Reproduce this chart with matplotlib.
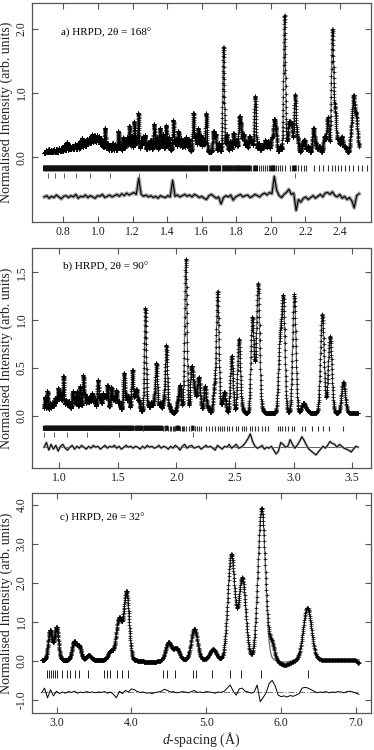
import numpy as np
import matplotlib
matplotlib.use("agg")
import matplotlib.pyplot as plt

plt.rcParams["font.family"] = ["Liberation Serif", "DejaVu Serif"]
plt.rcParams["mathtext.fontset"] = "custom"
plt.rcParams["mathtext.rm"] = "Liberation Serif"
plt.rcParams["mathtext.it"] = "Liberation Serif:italic"
plt.rcParams["axes.unicode_minus"] = False

# ---------------- panel a : HRPD 168 deg bank ----------------
a_range = (0.69, 2.51)
a_base = 0.07
a_broad = [(0.98, 0.15, 0.04), (1.30, 0.05, 0.20), (0.86, 0.05, 0.06)]
a_peak_d = [0.700, 0.715, 0.730, 0.745, 0.760, 0.775, 0.790, 0.805, 0.820, 0.835,
            0.850, 0.868, 0.885, 0.900, 0.907, 0.920, 0.935, 0.950, 0.965, 0.980,
            0.995, 1.005, 1.020, 1.041, 1.055, 1.070, 1.085, 1.100, 1.118, 1.130,
            1.147, 1.160, 1.170, 1.182, 1.195, 1.210, 1.222, 1.234, 1.250, 1.262,
            1.272, 1.290, 1.305, 1.325, 1.340, 1.359, 1.375, 1.394, 1.410, 1.436,
            1.450, 1.465, 1.480, 1.495, 1.510, 1.525, 1.552, 1.565, 1.580, 1.595,
            1.610, 1.626, 1.668, 1.680, 1.700, 1.726, 1.745, 1.765, 1.784, 1.800,
            1.818, 1.828, 1.842, 1.858, 1.876, 1.890, 1.909, 1.930, 1.950, 1.967,
            1.985, 2.005, 2.019, 2.030, 2.055, 2.079, 2.100, 2.108, 2.120, 2.140,
            2.155, 2.183, 2.194, 2.215, 2.246, 2.260, 2.280, 2.310, 2.329, 2.356,
            2.372, 2.390, 2.410, 2.430, 2.465, 2.478, 2.493, 2.505]
a_peak_h = [0.04, 0.05, 0.04, 0.05, 0.04, 0.06, 0.05, 0.08, 0.12, 0.07,
            0.05, 0.08, 0.09, 0.12, 0.16, 0.08, 0.10, 0.09, 0.12, 0.10,
            0.12, 0.12, 0.10, 0.32, 0.10, 0.08, 0.12, 0.10, 0.30, 0.12,
            0.20, 0.15, 0.20, 0.38, 0.22, 0.44, 0.18, 0.57, 0.15, 0.20,
            0.22, 0.12, 0.15, 0.40, 0.20, 0.34, 0.25, 0.38, 0.20, 0.47,
            0.18, 0.30, 0.20, 0.15, 0.22, 0.18, 0.60, 0.25, 0.36, 0.25,
            0.20, 0.60, 0.32, 0.28, 0.15, 1.64, 0.28, 0.18, 0.30, 0.20,
            0.52, 0.35, 0.28, 0.18, 0.25, 0.18, 0.88, 0.15, 0.12, 0.20,
            0.18, 0.22, 0.48, 0.30, 0.10, 2.14, 0.20, 0.38, 0.42, 0.90,
            0.20, 0.12, 0.18, 0.10, 0.38, 0.12, 0.10, 0.25, 0.55, 1.90,
            0.60, 0.20, 0.25, 0.10, 0.30, 0.82, 0.52, 0.10]
a_fwhm = 0.0062
a_diff = [-0.62, -0.60, -0.64, -0.61, -0.63, -0.59, -0.62, -0.65, -0.61, -0.60,
          -0.63, -0.60, -0.62, -0.58, -0.64, -0.61, -0.62, -0.59, -0.63, -0.60,
          -0.62, -0.64, -0.60, -0.61, -0.58, -0.63, -0.61, -0.59, -0.62, -0.60,
          -0.58, -0.61, -0.57, -0.60, -0.56, -0.59, -0.57, -0.55, -0.58, -0.33,
          -0.58, -0.61, -0.59, -0.62, -0.60, -0.63, -0.61, -0.64, -0.60, -0.62,
          -0.63, -0.60, -0.62, -0.36, -0.61, -0.59, -0.62, -0.60, -0.58, -0.61,
          -0.59, -0.62, -0.58, -0.60, -0.63, -0.61, -0.64, -0.66, -0.60, -0.58,
          -0.61, -0.64, -0.62, -0.73, -0.63, -0.60, -0.62, -0.59, -0.67, -0.62,
          -0.60, -0.58, -0.62, -0.60, -0.59, -0.63, -0.61, -0.58, -0.60, -0.62,
          -0.58, -0.56, -0.59, -0.55, -0.57, -0.30, -0.52, -0.60, -0.63, -0.58,
          -0.55, -0.50, -0.58, -0.56, -0.83, -0.66, -0.70, -0.64, -0.62, -0.66,
          -0.63, -0.60, -0.64, -0.61, -0.58, -0.62, -0.56, -0.55, -0.58, -0.54,
          -0.60, -0.62, -0.58, -0.64, -0.61, -0.66, -0.63, -0.68, -0.79, -0.60, -0.57]

# ---------------- panel b : HRPD 90 deg bank ----------------
b_range = (0.87, 3.55)
b_base = 0.03
b_broad = [(1.00, 0.10, 0.035), (1.25, 0.06, 0.30)]
b_peak_d = [0.878, 0.898, 0.920, 0.940, 0.965, 0.992, 1.008, 1.035, 1.060, 1.080,
            1.115, 1.130, 1.150, 1.177, 1.205, 1.220, 1.240, 1.260, 1.280, 1.300,
            1.330, 1.350, 1.373, 1.390, 1.410, 1.444, 1.465, 1.487, 1.510, 1.552,
            1.570, 1.590, 1.624, 1.645, 1.660, 1.680, 1.734, 1.760, 1.785, 1.810,
            1.829, 1.860, 1.890, 1.913, 1.940, 2.010, 2.030, 2.060, 2.080, 2.127,
            2.143, 2.160, 2.186, 2.200, 2.243, 2.270, 2.323, 2.351, 2.380, 2.408,
            2.471, 2.533, 2.560, 2.647, 2.675, 2.698, 2.730, 2.883, 2.912, 3.005,
            3.082, 3.110, 3.244, 3.310, 3.424]
b_peak_h = [0.14, 0.20, 0.06, 0.05, 0.06, 0.12, 0.08, 0.28, 0.06, 0.07,
            0.17, 0.10, 0.17, 0.22, 0.33, 0.12, 0.10, 0.12, 0.15, 0.10,
            0.29, 0.12, 0.15, 0.12, 0.24, 0.22, 0.12, 0.19, 0.08, 0.38,
            0.12, 0.14, 0.42, 0.12, 0.20, 0.10, 1.08, 0.06, 0.10, 0.12,
            0.50, 0.10, 0.12, 0.70, 0.06, 0.10, 0.28, 0.08, 1.60, 0.42,
            0.22, 0.15, 0.30, 0.15, 0.28, 0.05, 0.25, 1.26, 0.06, 0.22,
            0.60, 0.77, 0.04, 0.98, 0.30, 1.30, 0.03, 0.70, 1.16, 1.24,
            0.10, 0.03, 1.03, 0.80, 0.32]
b_fwhm = 0.0108
b_diff = [-0.33, -0.28, -0.36, -0.30, -0.35, -0.31, -0.37, -0.32, -0.30, -0.34,
          -0.36, -0.33, -0.31, -0.35, -0.32, -0.34, -0.31, -0.33, -0.35, -0.32,
          -0.34, -0.31, -0.33, -0.32, -0.35, -0.33, -0.31, -0.34, -0.32, -0.33,
          -0.31, -0.34, -0.32, -0.35, -0.33, -0.31, -0.33, -0.32, -0.34, -0.32,
          -0.33, -0.35, -0.32, -0.34, -0.31, -0.33, -0.32, -0.34, -0.33, -0.31,
          -0.34, -0.32, -0.33, -0.35, -0.32, -0.34, -0.31, -0.33, -0.36, -0.32,
          -0.30, -0.34, -0.32, -0.31, -0.34, -0.33, -0.32, -0.35, -0.33, -0.31,
          -0.33, -0.32, -0.34, -0.36, -0.31, -0.33, -0.35, -0.32, -0.33, -0.30,
          -0.34, -0.32, -0.30, -0.34, -0.33, -0.31, -0.28, -0.24, -0.19, -0.27,
          -0.32, -0.34, -0.33, -0.31, -0.35, -0.33, -0.34, -0.32, -0.36, -0.40,
          -0.37, -0.28, -0.30, -0.33, -0.32, -0.25, -0.30, -0.34, -0.31, -0.27,
          -0.22, -0.26, -0.31, -0.35, -0.37, -0.39, -0.41, -0.38, -0.35, -0.32,
          -0.34, -0.31, -0.27, -0.29, -0.30, -0.33, -0.30, -0.32, -0.34, -0.35,
          -0.36, -0.38, -0.35, -0.32, -0.33]

# ---------------- panel c : HRPD 32 deg bank ----------------
c_range = (2.80, 7.04)
c_base = 0.03
c_broad = [(4.25, -0.06, 0.12), (6.05, -0.06, 0.08)]
c_obs_extra = [(5.875, 0.42, 0.035), (6.05, -0.07, 0.08), (7.03, -0.08, 0.02)]
c_peak_d = [2.913, 2.955, 3.000, 3.234, 3.300, 3.430, 3.720, 3.800, 3.840, 3.880,
            3.935, 4.495, 4.600, 4.840, 5.090, 5.334, 5.480, 5.740, 6.350]
c_peak_h = [0.74, 0.10, 0.82, 0.45, 0.35, 0.12, 0.22, 0.30, 0.85, 0.15,
            1.72, 0.45, 0.30, 0.80, 0.27, 2.70, 2.10, 3.90, 1.34]
c_fwhm = 0.020
c_diff = [-0.82, -0.70, -0.95, -0.74, -0.90, -0.78, -0.84, -0.80, -0.83, -0.79,
          -0.81, -0.78, -0.83, -0.80, -0.82, -0.79, -0.81, -0.80, -0.82, -0.80,
          -0.81, -0.79, -0.83, -0.80, -0.86, -0.95, -0.78, -0.84, -0.76, -0.80,
          -0.72, -0.74, -0.79, -0.81, -0.80, -0.83, -0.82, -0.84, -0.81, -0.80,
          -0.78, -0.73, -0.76, -0.80, -0.79, -0.82, -0.81, -0.79, -0.80, -0.82,
          -0.79, -0.76, -0.81, -0.80, -0.82, -0.79, -0.80, -0.81, -0.83, -0.80,
          -0.81, -0.78, -0.70, -0.62, -0.78, -0.88, -0.72, -0.70, -0.78, -0.80,
          -0.83, -0.80, -0.62, -1.05, -0.94, -0.82, -0.58, -0.50, -0.64, -0.88,
          -0.92, -0.90, -0.93, -0.89, -0.91, -0.88, -0.84, -0.70, -0.68, -0.70,
          -0.74, -0.78, -0.82, -0.80, -0.81, -0.79, -0.82, -0.80, -0.81, -0.79,
          -0.80, -0.82, -0.79, -0.78, -0.80, -0.83, -0.86]

# ---------------- reflection markers ----------------
hkl_main_ab = [
    0.690, 0.697, 0.705, 0.712, 0.720, 0.727, 0.735, 0.742, 0.750, 0.757,
    0.765, 0.772, 0.780, 0.788, 0.795, 0.803, 0.810, 0.818, 0.826, 0.833,
    0.841, 0.848, 0.856, 0.864, 0.871, 0.879, 0.886, 0.894, 0.902, 0.909,
    0.917, 0.924, 0.932, 0.940, 0.947, 0.955, 0.962, 0.970, 0.978, 0.985,
    0.993, 1.000, 1.008, 1.016, 1.023, 1.031, 1.038, 1.046, 1.054, 1.061,
    1.069, 1.076, 1.084, 1.092, 1.099, 1.107, 1.114, 1.122, 1.130, 1.137,
    1.145, 1.152, 1.160, 1.168, 1.175, 1.183, 1.190, 1.198, 1.206, 1.213,
    1.221, 1.228, 1.236, 1.244, 1.251, 1.259, 1.266, 1.274, 1.282, 1.289,
    1.297, 1.304, 1.312, 1.320, 1.327, 1.335, 1.342, 1.350, 1.358, 1.365,
    1.373, 1.380, 1.388, 1.396, 1.404, 1.412, 1.419, 1.428, 1.436, 1.443,
    1.452, 1.460, 1.467, 1.476, 1.484, 1.493, 1.500, 1.509, 1.517, 1.526,
    1.534, 1.541, 1.550, 1.558, 1.566, 1.575, 1.583, 1.590, 1.599, 1.607,
    1.615, 1.624, 1.630, 1.652, 1.661, 1.669, 1.678, 1.688, 1.697, 1.705,
    1.716, 1.726, 1.734, 1.745, 1.753, 1.764, 1.772, 1.784, 1.793, 1.803,
    1.812, 1.818, 1.829, 1.838, 1.849, 1.858, 1.868, 1.877, 1.888, 1.898,
    1.909, 1.918, 1.929, 1.944, 1.956, 1.967, 1.979, 1.990, 2.003, 2.012,
    2.019, 2.030, 2.043, 2.055, 2.066, 2.079, 2.110, 2.122, 2.135, 2.142,
    2.155, 2.175, 2.190, 2.206, 2.252, 2.279, 2.300, 2.328, 2.351, 2.371,
    2.386, 2.408, 2.428, 2.451, 2.476, 2.505, 2.527, 2.556, 2.578, 2.590,
    2.627, 2.647, 2.670, 2.693, 2.727, 2.755, 2.778, 2.863, 2.883, 2.903,
    2.926, 2.954, 2.983, 3.002, 3.073, 3.096, 3.153, 3.205, 3.252, 3.304,
    3.418]
hkl_second = [0.713, 0.752, 0.805, 0.873, 0.955, 1.068, 1.235, 1.512, 2.138]
hkl_main_c = [2.877, 2.904, 2.931, 2.957, 2.984, 3.011, 3.074, 3.136, 3.184, 3.251,
              3.305, 3.425, 3.634, 3.678, 3.714, 3.812, 3.875, 3.959, 4.426, 4.479,
              4.582, 4.827, 4.858, 5.080, 5.320, 5.463, 5.730, 6.354]


def profile(d, centers, heights, fwhm_frac, base, broad):
    centers = np.asarray(centers)[:, None]
    heights = np.asarray(heights)[:, None]
    sig = fwhm_frac * centers / 2.355
    y = base + (heights * np.exp(-0.5 * ((d[None, :] - centers) / sig) ** 2)).sum(axis=0)
    for c, h, s in broad:
        y = y + h * np.exp(-0.5 * ((d - c) / s) ** 2)
    return y


def draw_hkl(ax, positions, lo, hi):
    # closely packed reflections merge into a solid bar, isolated ones stay thin
    pos = np.asarray(positions)
    gap = np.minimum(np.diff(pos, prepend=-1.0), np.diff(pos, append=99.0))
    dense = gap < 0.0095
    ax.vlines(pos[dense], lo, hi, color="#111111", lw=1.9, snap=False)
    ax.vlines(pos[~dense], lo, hi, color="#333333", lw=0.8)


def style_axes(ax, xlim, ylim, xticks, yticks):
    ax.set_xlim(*xlim)
    ax.set_ylim(*ylim)
    ax.set_xticks(xticks)
    ax.set_xticklabels(["%.1f" % v for v in xticks])
    ax.set_yticks(yticks)
    ax.set_yticklabels(["%.1f" % v for v in yticks], rotation=90, va="center")
    ax.tick_params(direction="in", length=4.5, width=0.8, color="#555555",
                   top=True, right=True, labelsize=8.5, labelcolor="#222222", pad=3)
    for s in ax.spines.values():
        s.set_color("#555555")
        s.set_linewidth(0.9)
    ax.set_ylabel("Normalised Intensity (arb. units)", fontsize=10, color="#222222", labelpad=2)


fig = plt.figure(figsize=(3.74, 7.5), dpi=100)
ax_a = fig.add_axes([0.0856, 0.704, 0.9064, 0.292])
ax_b = fig.add_axes([0.0856, 0.376, 0.9064, 0.2933])
ax_c = fig.add_axes([0.0856, 0.0493, 0.9064, 0.2933])

obs_kw = dict(ls="none", marker="+", color="black", mew=0.5)
calc_kw = dict(color="#6a6a6a", lw=0.9, zorder=1)

# panel a
d_a = np.geomspace(a_range[0], a_range[1], 5000)
calc_a = profile(d_a, a_peak_d, a_peak_h, a_fwhm, a_base, a_broad)
ax_a.plot(d_a, calc_a, **calc_kw)
ax_a.plot(d_a, calc_a, ms=2.2, **obs_kw)
dd_a = np.linspace(a_range[0], a_range[1], len(a_diff))
ax_a.plot(dd_a, a_diff, color="#999999", lw=2.6)
ax_a.plot(dd_a, a_diff, color="black", lw=0.8)
draw_hkl(ax_a, hkl_main_ab, -0.22, -0.13)
ax_a.vlines(hkl_second, -0.33, -0.25, color="#444444", lw=0.6)
style_axes(ax_a, (0.619, 2.579), (-1.01, 2.40), np.arange(0.8, 2.41, 0.2), [0.0, 1.0, 2.0])
ax_a.text(0.086, 0.863, "a) HRPD, 2θ = 168°", transform=ax_a.transAxes, fontsize=8, va="center")

# panel b
d_b = np.geomspace(b_range[0], b_range[1], 3000)
calc_b = profile(d_b, b_peak_d, b_peak_h, b_fwhm, b_base, b_broad)
ax_b.plot(d_b, calc_b, **calc_kw)
ax_b.plot(d_b, calc_b, ms=2.5, **obs_kw)
dd_b = np.linspace(b_range[0], b_range[1], len(b_diff))
ax_b.hlines(-0.33, b_range[0], b_range[1], color="#444444", lw=0.6)
ax_b.plot(dd_b, b_diff, color="#aaaaaa", lw=1.8)
ax_b.plot(dd_b, b_diff, color="black", lw=0.7)
in_b = [v for v in hkl_main_ab if b_range[0] <= v <= b_range[1]]
draw_hkl(ax_b, in_b, -0.157, -0.105)
ax_b.vlines([v for v in hkl_second if v >= b_range[0]], -0.226, -0.174, color="#444444", lw=0.6)
style_axes(ax_b, (0.767, 3.66), (-0.547, 1.754), np.arange(1.0, 3.51, 0.5), [0.0, 0.5, 1.0, 1.5])
ax_b.text(0.092, 0.915, "b) HRPD, 2θ = 90°", transform=ax_b.transAxes, fontsize=8, va="center")

# panel c
d_c = np.geomspace(c_range[0], c_range[1], 1550)
calc_c = profile(d_c, c_peak_d, c_peak_h, c_fwhm, c_base, c_broad)
obs_c = profile(d_c, c_peak_d, c_peak_h, c_fwhm, c_base, c_broad + c_obs_extra)
ax_c.plot(d_c, calc_c, **calc_kw)
ax_c.plot(d_c, obs_c, ms=2.8, **obs_kw)
dd_c = np.linspace(c_range[0], c_range[1], len(c_diff))
ax_c.hlines(-0.80, c_range[0], c_range[1], color="#777777", lw=0.7, linestyles=(0, (6, 2, 1, 2)))
ax_c.plot(dd_c, c_diff, color="black", lw=0.7)
ax_c.vlines(hkl_main_c, -0.45, -0.24, color="#222222", lw=0.7)
style_axes(ax_c, (2.673, 7.20), (-1.34, 4.31), np.arange(3.0, 7.01, 1.0), [-1.0, 0.0, 1.0, 2.0, 3.0, 4.0])
ax_c.text(0.083, 0.886, "c) HRPD, 2θ = 32°", transform=ax_c.transAxes, fontsize=8, va="center")
ax_c.set_xlabel("$d$-spacing (Å)", fontsize=10, color="#222222", labelpad=1)

fig.savefig("out.png", dpi=100)
